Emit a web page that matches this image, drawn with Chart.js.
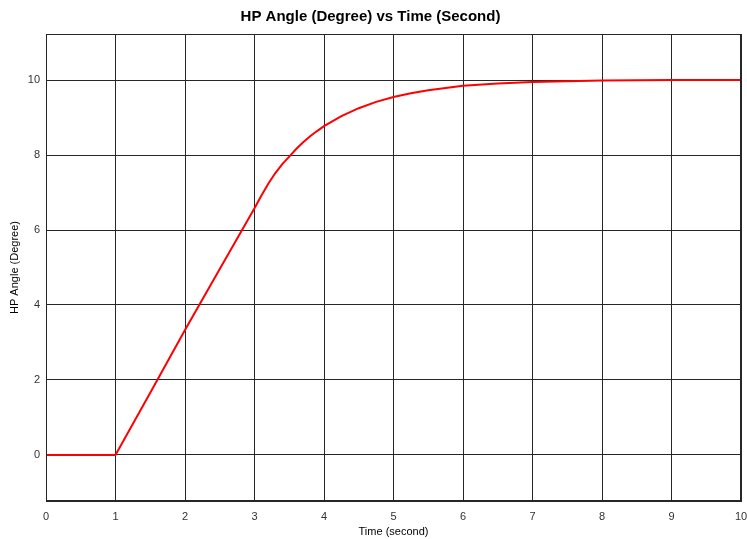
<!DOCTYPE html>
<html>
<head>
<meta charset="utf-8">
<script src="https://cdn.jsdelivr.net/npm/chart.js@4"></script>
<style>
html,body{margin:0;padding:0;background:#fff;}
#wrap{width:747px;height:539px;}
</style>
</head>
<body>
<div id="wrap"><canvas id="c" width="747" height="539"></canvas></div>
<script>
const timeValues = [0, 1, 1.5, 2, 2.5, 3, 3.1, 3.2, 3.3, 3.4, 3.5, 3.6, 3.7, 3.8, 3.9, 4, 4.25, 4.5, 4.75, 5, 5.25, 5.5, 6, 6.5, 7, 7.5, 8, 9, 10];
const angleValues = [0, 0, 1.66, 3.33, 4.96, 6.58, 6.92, 7.24, 7.52, 7.76, 7.96, 8.16, 8.34, 8.5, 8.64, 8.77, 9.04, 9.25, 9.42, 9.55, 9.65, 9.73, 9.85, 9.91, 9.95, 9.97, 9.99, 10, 10];
const xTicks = [0, 1, 2, 3, 4, 5, 6, 7, 8, 9, 10];
const yTicks = [0, 2, 4, 6, 8, 10];
const yRange = [-1.23, 11.23];

const frame = {
  id: 'frame',
  afterDraw(chart) {
    const a = chart.chartArea, ctx = chart.ctx;
    ctx.save();
    ctx.strokeStyle = '#262626';
    ctx.lineWidth = 1;
    ctx.strokeRect(Math.round(a.left) + 0.5, Math.round(a.top) + 0.5, Math.round(a.right - a.left) - 1, Math.round(a.bottom - a.top) - 1);
    ctx.restore();
  }
};

new Chart(document.getElementById('c'), {
  type: 'line',
  data: {
    datasets: [{
      data: timeValues.map((t, i) => ({x: t, y: angleValues[i]})),
      borderColor: '#ff0000',
      borderWidth: 2,
      pointRadius: 0,
      tension: 0,
      fill: false
    }]
  },
  options: {
    responsive: false,
    animation: false,
    devicePixelRatio: 1,
    layout: {padding: {left: 0, right: 6, top: 0, bottom: 0}},
    plugins: {
      legend: {display: false},
      tooltip: {enabled: false},
      title: {
        display: true,
        text: 'HP Angle (Degree) vs Time (Second)',
        color: '#000',
        font: {family: 'Liberation Sans, Arial', size: 15, weight: 'bold'},
        padding: {top: 8, bottom: 8}
      }
    },
    scales: {
      x: {
        type: 'linear',
        min: 0, max: 10,
        afterBuildTicks: s => { s.ticks = xTicks.map(v => ({value: v})); },
        afterFit: s => { s.height = 38; s.paddingLeft = 0; s.paddingRight = 0; },
        ticks: {color: '#333', font: {family: 'Liberation Sans, Arial', size: 11}, padding: 9, maxRotation: 0, autoSkip: false},
        grid: {color: '#262626', lineWidth: 1, drawTicks: false},
        border: {display: true, color: '#262626'},
        title: {display: true, text: 'Time (second)', color: '#000', font: {family: 'Liberation Sans, Arial', size: 11}, padding: {top: 0, bottom: 0}}
      },
      y: {
        type: 'linear',
        min: yRange[0], max: yRange[1],
        afterBuildTicks: s => { s.ticks = yTicks.map(v => ({value: v})); },
        afterFit: s => { s.width = 46; s.paddingTop = 0; s.paddingBottom = 0; },
        ticks: {color: '#333', font: {family: 'Liberation Sans, Arial', size: 11}, padding: 6, autoSkip: false},
        grid: {color: '#262626', lineWidth: 1, drawTicks: false},
        border: {display: true, color: '#262626'},
        title: {display: true, text: 'HP Angle (Degree)', color: '#000', font: {family: 'Liberation Sans, Arial', size: 11}, padding: {top: 8, bottom: 0}}
      }
    }
  },
  plugins: [frame]
});
</script>
</body>
</html>
